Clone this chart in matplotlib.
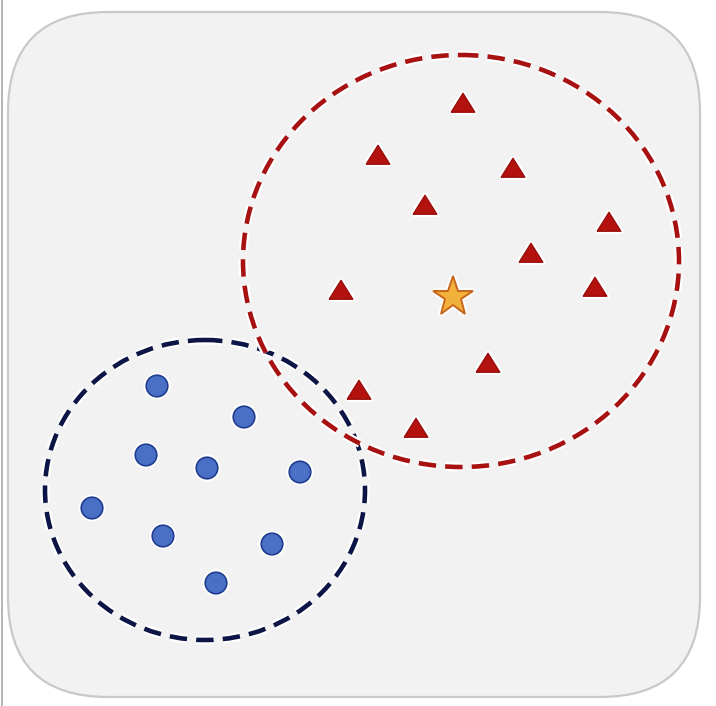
import matplotlib
matplotlib.use("Agg")
import matplotlib.pyplot as plt
from matplotlib.patches import FancyBboxPatch, Ellipse
import matplotlib.patheffects as pe

# Cluster A (blue circles), pixel-like coordinates (y downward)
blue_x = [157, 244, 146, 207, 300, 92, 163, 272, 216]
blue_y = [386, 417, 455, 468, 472, 508, 536, 544, 583]

# Cluster B (red triangles)
red_x = [463, 378, 513, 425, 609, 531, 341, 595, 488, 359, 416]
red_y = [103, 155, 168, 205, 222, 253, 290, 287, 363, 390, 428]

# Centroid (star)
star_x = [453]
star_y = [297]

# Cluster boundaries: center x, center y, width, height
blue_ring = (205, 490, 320, 300)
red_ring = (461, 261, 436, 412)

fig = plt.figure(figsize=(7.16, 7.06), dpi=100)
ax = fig.add_axes([0, 0, 1, 1])
ax.set_xlim(0, 716)
ax.set_ylim(706, 0)
ax.axis("off")

# thin left border line
ax.plot([1.5, 1.5], [0, 706], color="#a8a8a8", lw=1.2)

bg = FancyBboxPatch((8 + 100, 12 + 100), 692 - 200, 685 - 200,
                    boxstyle="round,pad=100",
                    facecolor="#f2f2f2", edgecolor="#c9c9c9", lw=1.6)
ax.add_patch(bg)

halo = [pe.withStroke(linewidth=6.5, foreground="white")]

for (cx, cy, w, h), col in [(blue_ring, "#0c1545"), (red_ring, "#a81111")]:
    e = Ellipse((cx, cy), w, h, fill=False, edgecolor=col, lw=3.3,
                linestyle=(0, (3.8, 2.0)))
    e.set_path_effects(halo)
    ax.add_patch(e)

tri = [(-1, -0.78), (1, -0.78), (0, 0.82), (-1, -0.78)]

ax.plot(blue_x, blue_y, "o", ls="none", ms=15.5, mfc="#4a70c6", mec="#1f3d8f",
        mew=1.2, path_effects=[pe.withStroke(linewidth=4, foreground="white")])
ax.plot(red_x, red_y, marker=tri, ls="none", ms=17, mfc="#b3120f", mec="#9a0d0a",
        mew=1.0, path_effects=[pe.withStroke(linewidth=4, foreground="white")])
ax.plot(star_x, star_y, "*", ls="none", ms=30, mfc="#f2b13a", mec="#c8661b",
        mew=1.4, path_effects=[pe.withStroke(linewidth=4, foreground="white")])

fig.savefig("out.png", dpi=100)
